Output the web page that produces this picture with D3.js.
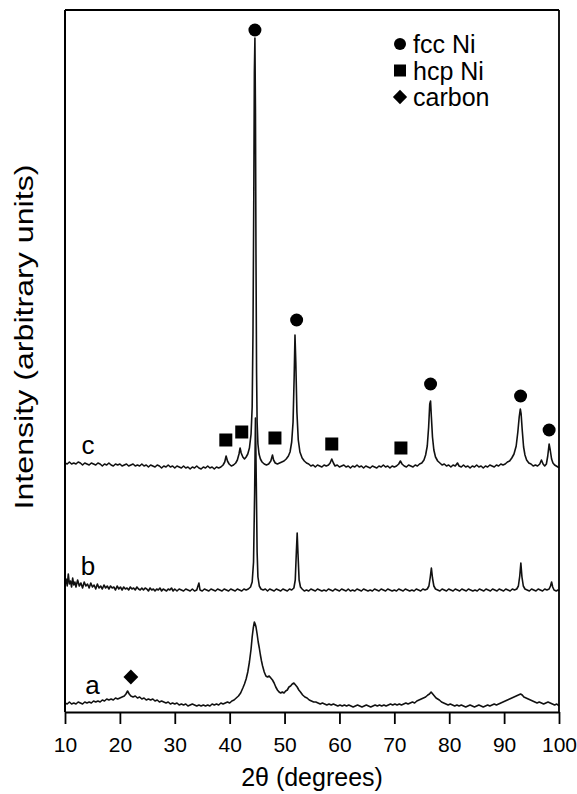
<!DOCTYPE html>
<html>
<head>
<meta charset="utf-8">
<script src="https://cdn.jsdelivr.net/npm/d3@7"></script>
<style>
  body { margin: 0; background: #fff; }
  svg { display: block; font-family: "Liberation Sans", Arial, Helvetica, sans-serif; }
</style>
</head>
<body>
<div id="chart"></div>
<script>
// ---------------- data (2theta in degrees, intensity in arbitrary units, traces already stacked) ----------------

const xTicks = [10, 20, 30, 40, 50, 60, 70, 80, 90, 100];

const traceA = [
[10,9],[10.4,8],[10.8,10],[11.2,8],[11.6,9],[12,8],[12.4,10],[12.8,9],[13.2,8],[13.6,10],[14,9],[14.4,10],[14.8,9],[15.2,11],[15.6,10],[16,11],[16.4,10],[16.8,12],[17.2,11],[17.6,13],[18,12],[18.4,13],[18.8,12],[19.2,14],[19.6,13],[20,14],[20.4,15],[20.8,16],[21.1,18],[21.4,21],[21.7,18],[22,16],[22.4,15],[22.8,16],[23.2,14],[23.6,15],[24,13],[24.4,14],[24.8,12],[25.2,13],[25.6,12],[26,13],[26.4,11],[26.8,12],[27.2,10],[27.6,11],[28,10],[28.4,9],[28.8,10],[29.2,8],[29.6,9],[30,8],[30.4,9],[30.8,7],[31.2,8],[31.6,7],[32,8],[32.4,6],[32.8,7],[33.2,8],[33.6,7],[34,6],[34.4,7],[34.8,6],[35.2,7],[35.6,6],[36,7],[36.4,6],[36.8,8],[37.2,7],[37.6,8],[38,7],[38.4,9],[38.8,8],[39.2,9],[39.6,10],[40,9],[40.4,11],[40.8,12],[41.2,14],[41.6,16],[42,19],[42.4,24],[42.7,28],[43,33],[43.3,40],[43.6,50],[43.9,63],[44.1,75],[44.3,84],[44.5,90],[44.65,88],[44.8,85],[45,78],[45.2,70],[45.4,64],[45.6,57],[45.8,51],[46,46],[46.3,40],[46.6,36],[46.9,35],[47.2,36],[47.5,34],[47.8,32],[48.1,29],[48.4,25],[48.7,22],[49,20],[49.3,19],[49.6,20],[49.9,19],[50.2,21],[50.5,22],[50.8,25],[51.1,26],[51.4,28],[51.7,29],[52,27],[52.3,25],[52.6,22],[52.9,20],[53.3,17],[53.7,15],[54.1,14],[54.5,12],[54.9,11],[55.3,10],[55.7,10],[56.1,9],[56.5,8],[56.9,9],[57.3,8],[57.7,7],[58.1,8],[58.5,7],[58.9,8],[59.3,7],[59.7,6],[60.1,7],[60.5,6],[60.9,7],[61.3,6],[61.7,7],[62.1,6],[62.5,5],[62.9,6],[63.3,7],[63.7,6],[64.1,5],[64.5,6],[64.9,7],[65.3,6],[65.7,5],[66.1,6],[66.5,7],[66.9,6],[67.3,7],[67.7,6],[68.1,7],[68.5,6],[68.9,7],[69.3,8],[69.7,7],[70.1,8],[70.5,7],[70.9,8],[71.3,7],[71.7,8],[72.1,9],[72.5,8],[72.9,9],[73.3,10],[73.7,9],[74.1,11],[74.5,12],[74.9,13],[75.3,14],[75.7,15],[76.1,17],[76.4,18],[76.7,20],[77,18],[77.3,16],[77.6,14],[77.9,13],[78.2,12],[78.6,10],[79,9],[79.4,8],[79.8,7],[80.2,8],[80.6,7],[81,6],[81.4,7],[81.8,6],[82.2,7],[82.6,6],[83,5],[83.4,6],[83.8,7],[84.2,6],[84.6,5],[85,6],[85.4,7],[85.8,6],[86.2,5],[86.6,6],[87,7],[87.4,6],[87.8,7],[88.2,8],[88.6,7],[89,8],[89.4,9],[89.8,10],[90.2,11],[90.6,12],[91,13],[91.4,14],[91.8,15],[92.2,16],[92.6,17],[93,18],[93.3,17],[93.6,15],[94,14],[94.4,13],[94.8,12],[95.2,11],[95.6,10],[96,9],[96.4,10],[96.8,9],[97.2,8],[97.6,9],[98,10],[98.4,9],[98.8,8],[99.2,7],[99.6,8],[100,6]
];

const traceB = [
[10,127],[10.2,133],[10.4,126],[10.6,138],[10.8,128],[11,131],[11.2,125],[11.4,134],[11.6,127],[11.8,130],[12,125],[12.3,132],[12.6,126],[12.9,129],[13.2,124],[13.5,130],[13.8,126],[14.1,128],[14.4,124],[14.7,129],[15,125],[15.3,127],[15.6,123],[15.9,128],[16.2,124],[16.5,126],[16.8,123],[17.1,127],[17.4,124],[17.7,126],[18,123],[18.3,126],[18.6,124],[18.9,125],[19.2,122],[19.5,126],[19.8,123],[20.1,125],[20.4,122],[20.7,125],[21,123],[21.3,124],[21.6,122],[21.9,125],[22.2,123],[22.5,124],[22.8,122],[23.1,125],[23.4,123],[23.7,122],[24,124],[24.3,122],[24.6,124],[24.9,123],[25.2,121],[25.5,124],[25.8,122],[26.1,123],[26.4,121],[26.7,123],[27,122],[27.3,124],[27.6,121],[27.9,123],[28.2,122],[28.5,121],[28.8,123],[29.1,122],[29.4,124],[29.7,121],[30,123],[30.4,121],[30.8,123],[31.2,122],[31.6,121],[32,123],[32.4,122],[32.8,121],[33.2,123],[33.6,121],[34,122],[34.4,129],[34.6,122],[35,121],[35.4,123],[35.8,122],[36.2,121],[36.6,123],[37,122],[37.4,121],[37.8,123],[38.2,122],[38.6,121],[39,123],[39.4,122],[39.8,121],[40.2,123],[40.6,122],[41,121],[41.4,123],[41.8,122],[42.2,121],[42.6,123],[43,122],[43.4,123],[43.8,125],[44.1,130],[44.35,150],[44.55,220],[44.7,294],[44.85,230],[45,160],[45.15,135],[45.4,126],[45.7,123],[46.1,122],[46.5,123],[46.9,121],[47.3,123],[47.7,122],[48.1,121],[48.5,123],[48.9,122],[49.3,121],[49.7,123],[50.1,122],[50.5,121],[50.9,123],[51.3,122],[51.7,124],[51.95,132],[52.15,160],[52.3,179],[52.45,158],[52.65,132],[52.9,125],[53.2,123],[53.6,121],[54,122],[54.4,121],[54.8,123],[55.2,122],[55.6,121],[56,123],[56.4,122],[56.8,121],[57.2,122],[57.6,121],[58,123],[58.4,122],[58.8,121],[59.2,123],[59.6,122],[60,121],[60.4,123],[60.8,122],[61.2,121],[61.6,123],[62,121],[62.4,122],[62.8,121],[63.2,123],[63.6,122],[64,121],[64.4,123],[64.8,122],[65.2,121],[65.6,122],[66,121],[66.4,123],[66.8,122],[67.2,121],[67.6,123],[68,122],[68.4,121],[68.8,123],[69.2,122],[69.6,121],[70,122],[70.4,121],[70.8,123],[71.2,122],[71.6,121],[72,123],[72.4,122],[72.8,121],[73.2,122],[73.6,121],[74,123],[74.4,122],[74.8,121],[75.2,123],[75.6,122],[76,123],[76.3,126],[76.55,135],[76.75,144],[76.95,134],[77.2,126],[77.5,123],[77.9,122],[78.3,121],[78.7,123],[79.1,122],[79.5,121],[79.9,123],[80.3,122],[80.7,121],[81.1,123],[81.5,122],[81.9,121],[82.3,123],[82.7,122],[83.1,121],[83.5,123],[83.9,122],[84.3,121],[84.7,122],[85.1,121],[85.5,123],[85.9,122],[86.3,121],[86.7,123],[87.1,122],[87.5,121],[87.9,123],[88.3,122],[88.7,121],[89.1,123],[89.5,122],[89.9,121],[90.3,123],[90.7,122],[91.1,121],[91.5,123],[91.9,122],[92.3,123],[92.6,126],[92.85,136],[93.05,149],[93.25,135],[93.5,126],[93.8,123],[94.2,122],[94.6,121],[95,123],[95.4,122],[95.8,121],[96.2,123],[96.6,122],[97,121],[97.4,123],[97.8,122],[98.2,123],[98.45,126],[98.65,130],[98.85,125],[99.1,122],[99.5,121],[99.8,122],[100,121]
];

const traceC = [
[10,249],[10.4,248],[10.8,250],[11.2,248],[11.6,249],[12,248],[12.4,250],[12.8,249],[13.2,247],[13.6,249],[14,248],[14.4,247],[14.8,249],[15.2,248],[15.6,247],[16,249],[16.4,248],[16.8,246],[17.2,248],[17.6,247],[18,249],[18.4,247],[18.8,246],[19.2,248],[19.6,247],[20,248],[20.4,246],[20.8,247],[21.2,248],[21.6,246],[22,247],[22.4,248],[22.8,246],[23.2,247],[23.6,246],[24,248],[24.4,246],[24.8,247],[25.2,245],[25.6,247],[26,246],[26.4,245],[26.8,247],[27.2,246],[27.6,244],[28,246],[28.4,245],[28.8,247],[29.2,245],[29.6,246],[30,244],[30.4,246],[30.8,245],[31.2,244],[31.6,246],[32,244],[32.4,245],[32.8,243],[33.2,245],[33.6,244],[34,246],[34.4,244],[34.8,243],[35.2,245],[35.6,244],[36,246],[36.4,244],[36.8,245],[37.2,243],[37.6,245],[38,244],[38.4,245],[38.8,247],[39.1,250],[39.35,256],[39.6,251],[39.9,248],[40.3,246],[40.7,247],[41.1,249],[41.4,252],[41.7,258],[41.9,264],[42.1,259],[42.4,255],[42.7,253],[43,255],[43.3,258],[43.6,264],[43.9,278],[44.1,305],[44.25,380],[44.4,520],[44.5,640],[44.6,674],[44.7,600],[44.8,450],[44.9,340],[45,290],[45.15,268],[45.35,258],[45.6,253],[45.9,250],[46.3,248],[46.7,247],[47.1,248],[47.5,251],[47.8,257],[48,252],[48.3,249],[48.7,248],[49.1,249],[49.5,250],[49.9,251],[50.3,253],[50.7,256],[51,260],[51.3,270],[51.55,290],[51.75,335],[51.9,377],[52.05,350],[52.25,300],[52.5,272],[52.8,260],[53.2,254],[53.6,251],[54,249],[54.4,248],[54.8,246],[55.2,247],[55.6,245],[56,247],[56.4,246],[56.8,245],[57.2,247],[57.6,246],[58,247],[58.3,249],[58.6,253],[58.9,249],[59.2,246],[59.6,247],[60,245],[60.4,246],[60.8,247],[61.2,245],[61.6,246],[62,244],[62.4,246],[62.8,245],[63.2,247],[63.6,245],[64,246],[64.4,244],[64.8,246],[65.2,245],[65.6,244],[66,246],[66.4,245],[66.8,244],[67.2,246],[67.6,245],[68,247],[68.4,245],[68.8,246],[69.2,244],[69.6,246],[70,245],[70.4,246],[70.8,248],[71.1,251],[71.4,248],[71.8,246],[72.2,245],[72.6,247],[73,246],[73.4,245],[73.8,247],[74.2,246],[74.6,248],[75,249],[75.4,252],[75.7,257],[76,266],[76.25,285],[76.45,308],[76.6,311],[76.75,295],[76.95,275],[77.2,262],[77.5,255],[77.9,251],[78.3,249],[78.7,247],[79.1,248],[79.5,246],[79.9,247],[80.3,245],[80.7,247],[81.1,246],[81.5,249],[81.8,246],[82.2,245],[82.6,247],[83,245],[83.4,246],[83.8,244],[84.2,246],[84.6,245],[85,247],[85.4,245],[85.8,246],[86.2,244],[86.6,246],[87,245],[87.4,247],[87.8,246],[88.2,245],[88.6,247],[89,246],[89.4,248],[89.8,247],[90.2,248],[90.6,250],[91,251],[91.4,254],[91.8,258],[92.2,266],[92.5,280],[92.75,295],[92.95,303],[93.1,298],[93.3,282],[93.55,265],[93.8,257],[94.1,252],[94.5,249],[94.9,248],[95.3,246],[95.7,247],[96.1,246],[96.5,248],[96.8,252],[97.1,248],[97.4,246],[97.7,248],[97.95,256],[98.2,268],[98.4,262],[98.65,253],[98.9,249],[99.2,247],[99.5,246],[99.8,245],[100,244]
];

// phase markers: [2theta, intensity]
const fccNi = [[44.6, 682], [52.2, 392], [76.6, 328], [93.0, 316], [98.2, 282]];
const hcpNi = [[39.3, 272], [42.2, 280], [48.25, 274], [58.6, 268], [71.2, 264]];
const carbon = [[22.0, 35]];

// trace labels: [name, 2theta, intensity]
const traceLabels = [["a", 15.0, 27], ["b", 14.2, 146], ["c", 14.2, 267]];

const legendItems = ["fcc Ni", "hcp Ni", "carbon"];

// ---------------- set up svg ----------------

const width = 577;
const height = 794;
const plot = { left: 65, right: 559, top: 10, bottom: 712 };

const svg = d3.select("#chart")
  .append("svg")
  .attr("width", width)
  .attr("height", height);

const x = d3.scaleLinear().domain([10, 100]).range([plot.left, plot.right]);
const y = d3.scaleLinear().domain([0, 702]).range([plot.bottom, plot.top]);

// ---------------- traces ----------------

const line = d3.line()
  .x(d => x(d[0]))
  .y(d => y(d[1]));

svg.selectAll(".trace")
  .data([traceA, traceB, traceC])
  .enter()
  .append("path")
  .attr("class", "trace")
  .attr("d", line)
  .attr("fill", "none")
  .attr("stroke", "#111")
  .attr("stroke-width", 1.6)
  .attr("stroke-linejoin", "round");

// ---------------- markers ----------------

svg.selectAll(".fcc")
  .data(fccNi)
  .enter()
  .append("circle")
  .attr("cx", d => x(d[0]))
  .attr("cy", d => y(d[1]))
  .attr("r", 6.5)
  .attr("fill", "#000");

svg.selectAll(".hcp")
  .data(hcpNi)
  .enter()
  .append("rect")
  .attr("x", d => x(d[0]) - 6.5)
  .attr("y", d => y(d[1]) - 6.5)
  .attr("width", 13)
  .attr("height", 13)
  .attr("fill", "#000");

const diamond = d3.symbol().type(d3.symbolDiamond2).size(140);

svg.selectAll(".carbon")
  .data(carbon)
  .enter()
  .append("path")
  .attr("d", diamond)
  .attr("transform", d => `translate(${x(d[0])},${y(d[1])})`)
  .attr("fill", "#000");

svg.selectAll(".tlabel")
  .data(traceLabels)
  .enter()
  .append("text")
  .attr("x", d => x(d[1]))
  .attr("y", d => y(d[2]))
  .attr("text-anchor", "middle")
  .attr("dy", "0.35em")
  .attr("font-size", 26)
  .text(d => d[0]);

// ---------------- legend ----------------

const legend = svg.append("g").attr("transform", "translate(400,44)");
const lg = legend.selectAll("g")
  .data(legendItems)
  .enter()
  .append("g")
  .attr("transform", (d, i) => `translate(0,${i * 26.5})`);

lg.each(function (d, i) {
  const g = d3.select(this);
  if (i === 0) g.append("circle").attr("r", 6).attr("fill", "#000");
  if (i === 1) g.append("rect").attr("x", -6).attr("y", -6).attr("width", 12).attr("height", 12).attr("fill", "#000");
  if (i === 2) g.append("path").attr("d", d3.symbol().type(d3.symbolDiamond2).size(130)).attr("fill", "#000");
});

lg.append("text")
  .attr("x", 13)
  .attr("dy", "0.36em")
  .attr("font-size", 25)
  .text(d => d);

// ---------------- axes / frame ----------------

const xAxis = d3.axisBottom(x)
  .tickValues(xTicks)
  .tickSize(12)
  .tickSizeOuter(0)
  .tickPadding(13);

const gx = svg.append("g")
  .attr("transform", `translate(0,${plot.bottom})`)
  .call(xAxis);

gx.select(".domain").attr("stroke-width", 2);
gx.selectAll(".tick line").attr("stroke-width", 1.8);
gx.selectAll(".tick text")
  .attr("font-size", 21)
  .attr("font-family", "Liberation Sans, Arial, sans-serif")
  .attr("fill", "#000");

svg.append("line")
  .attr("x1", plot.left).attr("x2", plot.left)
  .attr("y1", plot.top).attr("y2", plot.bottom)
  .attr("stroke", "#000").attr("stroke-width", 2);
svg.append("line")
  .attr("x1", plot.right).attr("x2", plot.right)
  .attr("y1", plot.top).attr("y2", plot.bottom)
  .attr("stroke", "#000").attr("stroke-width", 1.8);
svg.append("line")
  .attr("x1", plot.left).attr("x2", plot.right)
  .attr("y1", plot.top).attr("y2", plot.top)
  .attr("stroke", "#000").attr("stroke-width", 1.8);

// axis titles
svg.append("text")
  .attr("x", (plot.left + plot.right) / 2)
  .attr("y", 786)
  .attr("text-anchor", "middle")
  .attr("font-size", 25)
  .text("2θ (degrees)");

svg.append("text")
  .attr("transform", "translate(33,337) rotate(-90)")
  .attr("text-anchor", "middle")
  .attr("font-size", 26)
  .attr("textLength", 345)
  .attr("lengthAdjust", "spacingAndGlyphs")
  .text("Intensity (arbitrary units)");
</script>
</body>
</html>
